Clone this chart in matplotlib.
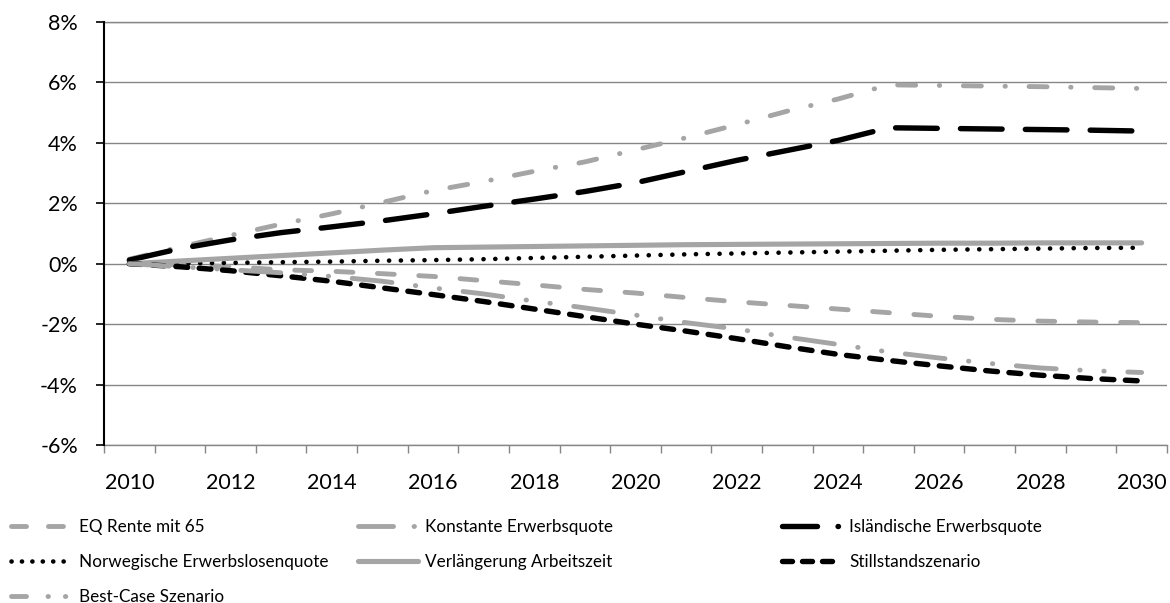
import matplotlib
matplotlib.use('Agg')
import matplotlib.pyplot as plt
import matplotlib.ticker as mticker
from matplotlib.lines import Line2D

plt.rcParams['font.family'] = ['Lato', 'DejaVu Sans']
plt.rcParams['axes.unicode_minus'] = False
plt.rcParams['lines.scale_dashes'] = False

# data (percent)
years = list(range(2010, 2031))
eq_rente = [0, -0.03, -0.1, -0.2, -0.25, -0.33, -0.42, -0.56, -0.7, -0.85, -0.97,
            -1.12, -1.26, -1.38, -1.5, -1.62, -1.74, -1.84, -1.9, -1.93, -1.95]
konstante = [0.15, 0.55, 0.94, 1.31, 1.65, 2.03, 2.42, 2.72, 3.06, 3.37, 3.77,
             4.17, 4.6, 5.05, 5.45, 5.92, 5.9, 5.88, 5.86, 5.83, 5.8]
islaendisch = [0.12, 0.5, 0.79, 1.03, 1.22, 1.42, 1.65, 1.9, 2.14, 2.39, 2.68,
               3.05, 3.42, 3.75, 4.08, 4.5, 4.48, 4.46, 4.44, 4.42, 4.39]
norwegisch = [0, 0.01, 0.03, 0.05, 0.07, 0.1, 0.12, 0.15, 0.19, 0.23, 0.27,
              0.31, 0.34, 0.37, 0.4, 0.43, 0.46, 0.48, 0.5, 0.52, 0.53]
verlaengerung = [0, 0.09, 0.18, 0.27, 0.36, 0.45, 0.53, 0.55, 0.57, 0.59, 0.61,
                 0.63, 0.64, 0.65, 0.66, 0.67, 0.68, 0.68, 0.69, 0.69, 0.69]
stillstand = [0, -0.1, -0.23, -0.4, -0.58, -0.8, -1.02, -1.25, -1.5, -1.75, -2.0,
              -2.23, -2.48, -2.75, -3.0, -3.2, -3.38, -3.55, -3.69, -3.8, -3.88]
best_case = [0, -0.1, -0.2, -0.3, -0.42, -0.58, -0.8, -1.0, -1.24, -1.46, -1.7,
             -1.95, -2.16, -2.43, -2.67, -2.92, -3.12, -3.3, -3.45, -3.54, -3.6]

labels = ['EQ Rente mit 65', 'Konstante Erwerbsquote', 'Isländische Erwerbsquote',
          'Norwegische Erwerbslosenquote', 'Verlängerung Arbeitszeit',
          'Stillstandszenario', 'Best-Case Szenario']

grey = '#A5A5A5'
# line styles in the plot
styles = [
    dict(color=grey, lw=3.5, ls=(0, (12.1, 17.7))),
    dict(color=grey, lw=3.5, ls=(0, (13, 17, 0.3, 17))),
    dict(color='black', lw=3.9, ls=(0, (30, 16.7))),
    dict(color='black', lw=3.3, ls=(0, (0.1, 8.4))),
    dict(color=grey, lw=3.7, ls='-'),
    dict(color='black', lw=3.9, ls=(0, (8.5, 8.3))),
    dict(color=grey, lw=3.5, ls=(0, (28.8, 17, 0.3, 17, 0.3, 17))),
]
# shorter patterns for the legend keys (like the original legend)
leg_styles = [
    dict(color=grey, lw=3.5, ls=(0, (10.8, 15.8))),
    dict(color=grey, lw=3.5, ls=(0, (25.2, 14.8, 0.3, 20))),
    dict(color='black', lw=3.9, ls=(0, (25.2, 14.8, 0.3, 20))),
    dict(color='black', lw=3.3, ls=(0, (0.1, 7.4))),
    dict(color=grey, lw=3.7, ls='-'),
    dict(color='black', lw=3.9, ls=(0, (7.2, 7.2))),
    dict(color=grey, lw=3.5, ls=(0, (10.8, 15.5, 0.3, 12.2, 0.3, 20))),
]
series = [eq_rente, konstante, islaendisch, norwegisch, verlaengerung, stillstand, best_case]

fig = plt.figure(figsize=(11.7, 6.03), dpi=100)
ax = fig.add_axes([0.0889, 0.262, 0.9085, 0.7015])

x = list(range(len(years)))
for vals, lab, st in zip(series, labels, styles):
    ax.plot(x, vals, label=lab, dash_capstyle='round', solid_capstyle='round',
            zorder=3, **st)

handles = [Line2D([], [], dash_capstyle='round', solid_capstyle='round', **st)
           for st in leg_styles]

# axes
ax.set_xlim(-0.5, len(years) - 0.5)
ax.set_ylim(-6, 8)
ax.yaxis.set_major_locator(mticker.MultipleLocator(2))
ax.yaxis.set_major_formatter(mticker.FuncFormatter(lambda v, p: f'{v:.0f}%'))
ax.set_xticks(x[::2])
ax.set_xticklabels([str(y) for y in years[::2]])
ax.set_xticks([i - 0.5 for i in range(len(years) + 1)], minor=True)
ax.tick_params(axis='x', which='major', length=0, pad=20, labelsize=15.5, colors='black')
ax.tick_params(axis='x', which='minor', length=5.8, width=1, color='#868686')
ax.tick_params(axis='y', length=5.8, width=1.2, color='black', pad=13, labelsize=15.5)

ax.yaxis.grid(True, color='#868686', lw=1)
ax.set_axisbelow(True)
ax.spines['right'].set_visible(False)
ax.spines['top'].set_color('#868686')
ax.spines['top'].set_linewidth(1)
ax.spines['bottom'].set_color('#868686')
ax.spines['bottom'].set_linewidth(1)
ax.spines['left'].set_color('black')
ax.spines['left'].set_linewidth(1.5)
ax.spines['left'].set_zorder(4)

# legend: three columns placed below the plot
leg_kw = dict(loc='upper left', frameon=False, borderpad=0, borderaxespad=0,
              handlelength=3.5, handletextpad=0.45, labelspacing=1.1, fontsize=12.3)
cols = [([0, 3, 6], 0.0095), ([1, 4], 0.306), ([2, 5], 0.668)]
for idx, xpos in cols:
    fig.legend([handles[i] for i in idx], [labels[i] for i in idx],
               bbox_to_anchor=(xpos, 0.139), **leg_kw)

fig.savefig('out.png', dpi=100)
